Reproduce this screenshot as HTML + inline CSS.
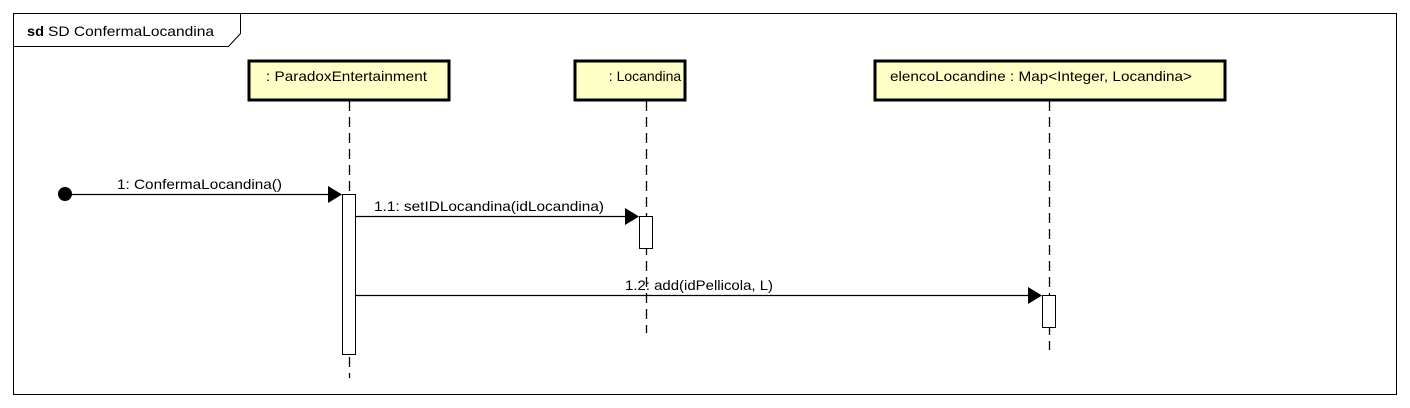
<!DOCTYPE html>
<html><head><style>body{margin:0;background:#fff}svg{display:block}text{font-family:"Liberation Sans",sans-serif;font-size:14px;fill:#000}</style></head>
<body>
<svg width="1410" height="408" xmlns="http://www.w3.org/2000/svg">
<rect x="0" y="0" width="1410" height="408" fill="#fff"/>
<rect x="13.5" y="13.5" width="1383" height="381" fill="none" stroke="#000" stroke-width="1"/>
<polyline points="13.5,46.5 228.5,46.5 240.5,33.5 240.5,13.5" fill="none" stroke="#000"/>
<text x="27" y="36" font-weight="bold" textLength="17" lengthAdjust="spacingAndGlyphs">sd</text>
<text x="48" y="36" textLength="166" lengthAdjust="spacingAndGlyphs">SD ConfermaLocandina</text>
<g stroke="#000" stroke-width="1.3" stroke-dasharray="10,6">
<line x1="349.5" y1="101" x2="349.5" y2="378"/>
<line x1="646.5" y1="101" x2="646.5" y2="333"/>
<line x1="1049.5" y1="101" x2="1049.5" y2="350"/>
</g>
<g fill="#ffffc8" stroke="#000" stroke-width="3">
<rect x="249" y="61" width="200" height="39"/>
<rect x="575" y="61" width="110" height="39"/>
<rect x="875" y="61" width="350" height="39"/>
</g>
<text x="266" y="81" textLength="161" lengthAdjust="spacingAndGlyphs">: ParadoxEntertainment</text>
<text x="645" y="81" text-anchor="middle">: Locandina</text>
<text x="890" y="81" textLength="302" lengthAdjust="spacingAndGlyphs">elencoLocandine : Map&lt;Integer, Locandina&gt;</text>
<g fill="#fff" stroke="#000" stroke-width="1">
<rect x="342.5" y="194.5" width="13" height="160"/>
<rect x="639.5" y="216.5" width="13" height="32"/>
<rect x="1042.5" y="295.5" width="13" height="32"/>
</g>
<circle cx="65" cy="194" r="7" fill="#000"/>
<g stroke="#000" stroke-width="1.3">
<line x1="65" y1="194.5" x2="330" y2="194.5"/>
<line x1="356" y1="216.5" x2="626" y2="216.5"/>
<line x1="356" y1="295.5" x2="1029" y2="295.5"/>
</g>
<polygon points="328,186 342,194.5 328,203" fill="#000"/>
<polygon points="625,208 639,216.5 625,225" fill="#000"/>
<polygon points="1028,287 1042,295.5 1028,304" fill="#000"/>
<text x="117" y="189" textLength="165" lengthAdjust="spacingAndGlyphs">1: ConfermaLocandina()</text>
<text x="374" y="211" textLength="230" lengthAdjust="spacingAndGlyphs">1.1: setIDLocandina(idLocandina)</text>
<text x="625" y="290" textLength="148" lengthAdjust="spacingAndGlyphs">1.2: add(idPellicola, L)</text>
</svg>
</body></html>
